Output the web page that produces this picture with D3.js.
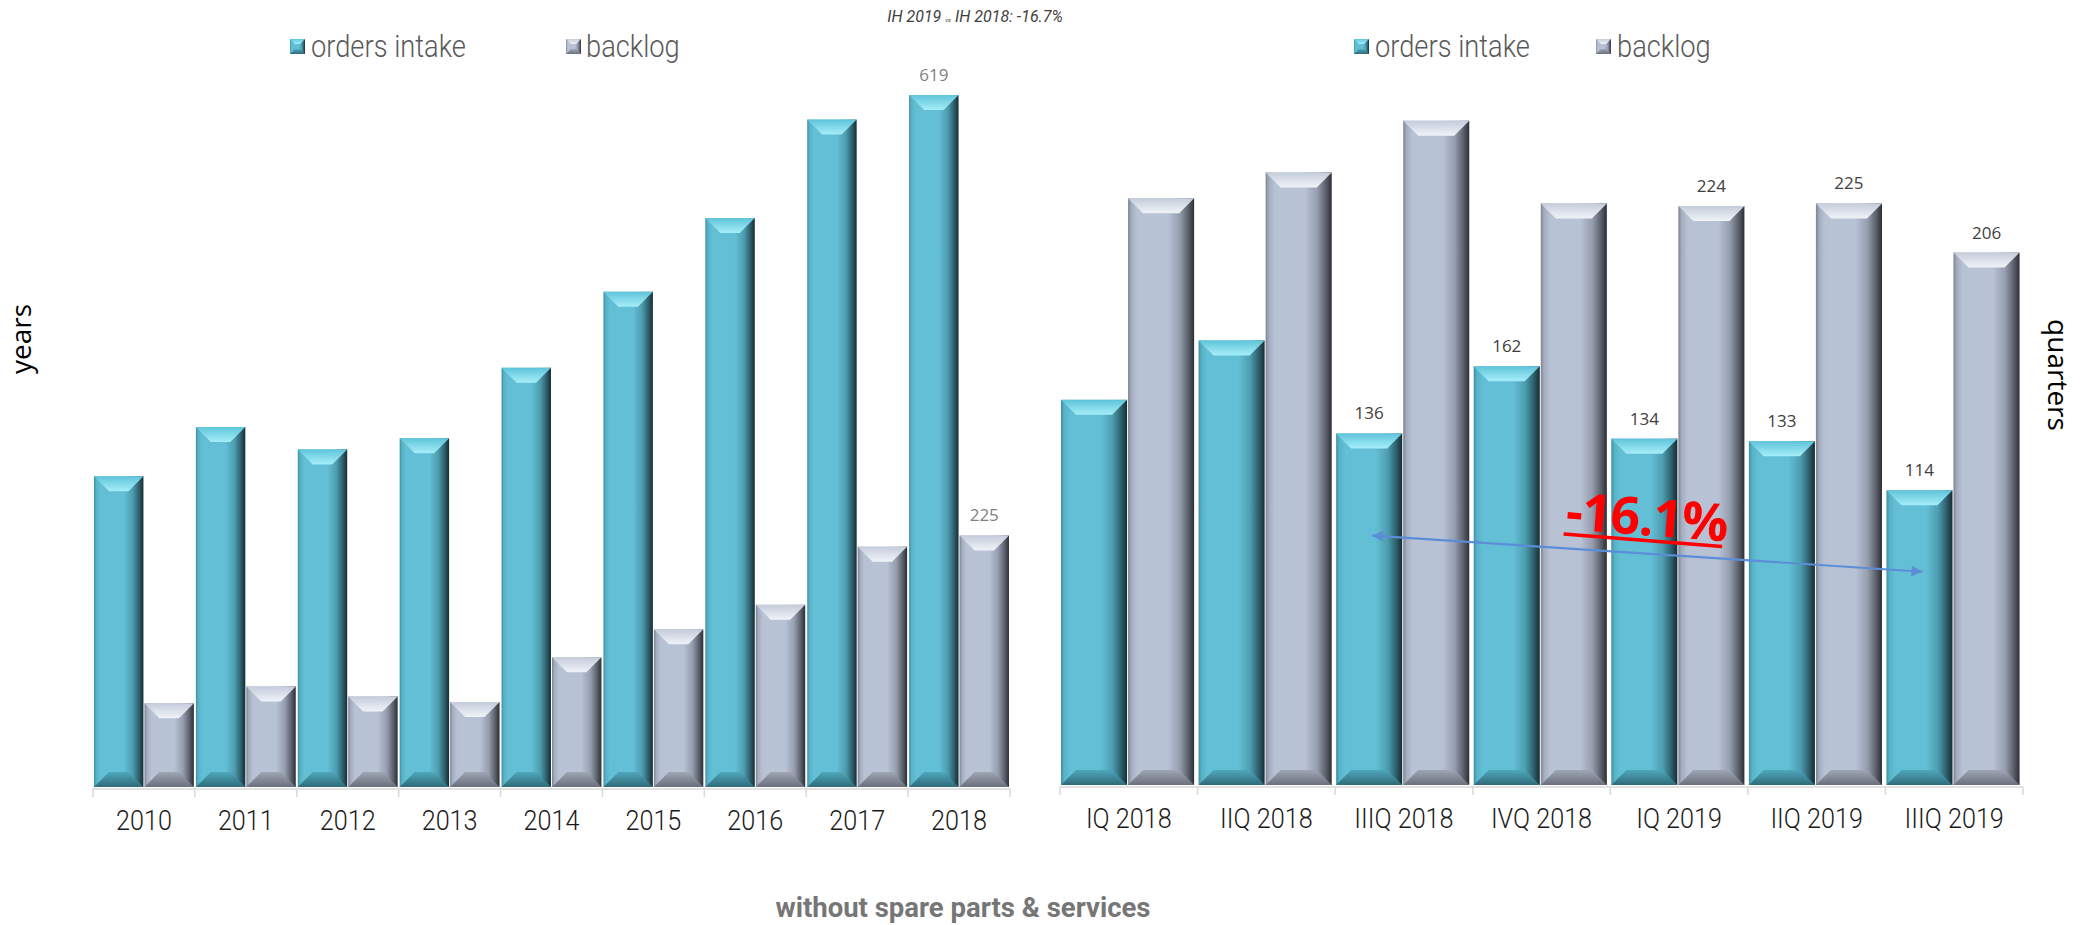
<!DOCTYPE html>
<html><head><meta charset="utf-8">
<script src="https://cdn.jsdelivr.net/npm/d3@7"></script>
<style>body{margin:0;background:#fff;} svg{display:block;}</style>
</head><body>
<svg id="c" width="2087" height="925"></svg>
<script>
// ---------- DATA ----------
const years = ["2010","2011","2012","2013","2014","2015","2016","2017","2018"];
const yearOrders  = [278, 322, 302, 312, 375, 443, 509, 597, 619];
const yearBacklog = [75, 90, 81, 76, 116, 141, 163, 215, 225];
const yearOrderLabels   = [false,false,false,false,false,false,false,false,true];
const yearBacklogLabels = [false,false,false,false,false,false,false,false,true];

const quarters = ["IQ 2018","IIQ 2018","IIIQ 2018","IVQ 2018","IQ 2019","IIQ 2019","IIIQ 2019"];
const qOrders  = [149, 172, 136, 162, 134, 133, 114];
const qBacklog = [227, 237, 257, 225, 224, 225, 206];
const qOrderLabels   = [false,false,true,true,true,true,true];
const qBacklogLabels = [false,false,false,false,true,true,true];

const seriesNames = ["orders intake","backlog"];
const seriesKeys = ["orders","backlog"];
const titleParts = ["IH 2019 ", "vs", " IH 2018: -16.7%"];
const footnote = "without spare parts & services";
const changeLabel = "-16.1%";
const arrowFrom = {cat:"IIIQ 2018", value:96.5};
const arrowTo   = {cat:"IIIQ 2019", value:82.5};

// ---------- SETUP ----------
const svg = d3.select("#c");
const defs = svg.append("defs");
function grad(id, stops, vertical){
  const g = defs.append("linearGradient").attr("id", id)
    .attr("x1",0).attr("y1",0).attr("x2", vertical?0:1).attr("y2", vertical?1:0);
  stops.forEach(([o,c]) => g.append("stop").attr("offset", o).attr("stop-color", c));
}
grad("side-orders", [[0,"#3f8fa2"],[0.05,"#58b3c8"],[0.14,"#63bfd6"],[0.6,"#63bfd6"],[0.78,"#4d9db0"],[0.91,"#2d5f6c"],[1,"#162c33"]]);
grad("top-orders", [[0,"#5fc4da"],[1,"#a6eef9"]], true);
grad("bot-orders", [[0,"#4ea7bb"],[1,"#2f6b7a"]], true);
grad("side-backlog", [[0,"#7b8392"],[0.05,"#a4adbf"],[0.14,"#b8c2d5"],[0.6,"#b8c2d5"],[0.78,"#959dae"],[0.91,"#5b606b"],[1,"#2c2f35"]]);
grad("top-backlog", [[0,"#c4ccdb"],[1,"#f0f3f8"]], true);
grad("bot-backlog", [[0,"#9ea5b4"],[1,"#6b707b"]], true);

function drawBar(g, x, y, w, h, kind, b){
  g.append("rect").attr("x",x).attr("y",y).attr("width",w).attr("height",h)
    .attr("fill",`url(#side-${kind})`);
  const bb = Math.min(b, h/2, w/2);
  g.append("polygon").attr("points",[[x,y],[x+w,y],[x+w-bb,y+bb],[x+bb,y+bb]].map(p=>p.join(",")).join(" "))
    .attr("fill",`url(#top-${kind})`);
  g.append("polygon").attr("points",[[x,y+h],[x+w,y+h],[x+w-bb,y+h-bb],[x+bb,y+h-bb]].map(p=>p.join(",")).join(" "))
    .attr("fill",`url(#bot-${kind})`);
}

function condensedText(g, x, y, txt, size, color, weight, sx, anchor){
  const t = g.append("g").attr("transform",`translate(${x},${y}) scale(${sx},1)`)
    .append("text").attr("x",0).attr("y",0)
    .attr("font-family","Roboto, sans-serif").attr("font-weight",weight)
    .attr("font-size",size).attr("fill",color).attr("text-anchor",anchor||"start").text(txt);
  return t;
}

function chart(opts){
  const {cats, orders, backlog, oLab, bLab, x0, x1, base, vmax, ytop, sub0, sub1, subPad, labelColor, axisY} = opts;
  const x = d3.scaleBand().domain(cats).range([x0,x1]).paddingInner(0).paddingOuter(0);
  const xs = d3.scaleBand().domain(seriesKeys).range([sub0, x.bandwidth()*sub1]).paddingInner(subPad);
  const y = d3.scaleLinear().domain([0,vmax]).range([base,ytop]);
  const g = svg.append("g");
  // axis
  const ax = g.append("g").attr("transform",`translate(0,${axisY})`);
  ax.append("line").attr("x1",x0).attr("x2",x1).attr("y1",0).attr("y2",0).attr("stroke","#d9d9d9").attr("stroke-width",1.5);
  const bounds = cats.map(c=>x(c)).concat([x(cats[cats.length-1])+x.bandwidth()]);
  ax.selectAll("line.tk").data(bounds).join("line").attr("class","tk")
    .attr("x1",d=>d).attr("x2",d=>d).attr("y1",0).attr("y2",8).attr("stroke","#d9d9d9").attr("stroke-width",1.5);
  cats.forEach(c=>{
    condensedText(g, x(c)+x.bandwidth()/2, axisY+41, c, 28, "#1a1a1a", 300, 0.9, "middle");
  });
  // bars
  const data = [];
  cats.forEach((c,i)=>{
    data.push({cat:c, key:"orders", v:orders[i], lab:oLab[i]});
    data.push({cat:c, key:"backlog", v:backlog[i], lab:bLab[i]});
  });
  g.selectAll("g.bar").data(data).join("g").attr("class","bar").each(function(d){
    const bx = x(d.cat)+xs(d.key), bw = xs.bandwidth();
    drawBar(d3.select(this), bx, y(d.v), bw, base-y(d.v), d.key, 15);
    if(d.lab){
      d3.select(this).append("text").attr("x",bx+bw/2).attr("y",y(d.v)-14)
        .attr("text-anchor","middle").attr("font-family","'Open Sans', sans-serif").attr("font-weight",400)
        .attr("font-size",17).attr("fill",labelColor).text(d.v);
    }
  });
  return {x, xs, y};
}

const L = chart({cats:years, orders:yearOrders, backlog:yearBacklog, oLab:yearOrderLabels, bLab:yearBacklogLabels,
  x0:93, x1:1010, base:787, vmax:619, ytop:95, sub0:1, sub1:0.99, subPad:0.02, labelColor:"#7f7f7f", axisY:789});
const R = chart({cats:quarters, orders:qOrders, backlog:qBacklog, oLab:qOrderLabels, bLab:qBacklogLabels,
  x0:1060, x1:2023, base:785, vmax:224, ytop:206, sub0:1, sub1:0.975, subPad:0.015, labelColor:"#404040", axisY:787});

// ---------- LEGENDS ----------
function legendMarker(x, y, kind){
  const g = svg.append("g");
  drawBar(g, x, y, 15, 15, kind, 5);
}
function legend(items){
  items.forEach(it=>{
    legendMarker(it.mx, 39, it.kind);
    condensedText(svg, it.tx, 57, it.name, 31, "#595959", 300, 0.88, "start");
  });
}
legend([{mx:290, tx:311, kind:"orders", name:seriesNames[0]},{mx:566, tx:586, kind:"backlog", name:seriesNames[1]}]);
legend([{mx:1354, tx:1375, kind:"orders", name:seriesNames[0]},{mx:1596, tx:1617, kind:"backlog", name:seriesNames[1]}]);

// ---------- TITLE ----------
const tt = svg.append("text").attr("x",975).attr("y",22).attr("text-anchor","middle")
  .attr("font-family","Roboto, sans-serif").attr("font-style","italic").attr("font-size",16).attr("fill","#3f3f3f");
tt.append("tspan").text(titleParts[0]);
tt.append("tspan").attr("font-size",6).text(titleParts[1]);
tt.append("tspan").text(titleParts[2]);

// ---------- SIDE LABELS ----------
svg.append("text").attr("transform","translate(31,339) rotate(-90)").attr("text-anchor","middle")
  .attr("font-family","'Open Sans', sans-serif").attr("font-size",28).attr("fill","#000").text("years");
svg.append("text").attr("transform","translate(2048,375) rotate(90)").attr("text-anchor","middle")
  .attr("font-family","'Open Sans', sans-serif").attr("font-size",28).attr("fill","#000").text("quarters");

// ---------- FOOTNOTE ----------
svg.append("text").attr("x",963).attr("y",917).attr("text-anchor","middle")
  .attr("font-family","Roboto, sans-serif").attr("font-weight",700).attr("font-size",27.5).attr("fill","#767676").text(footnote);

// ---------- ARROW + CHANGE ----------
defs.append("marker").attr("id","ah").attr("viewBox","0 0 10 10").attr("refX",10).attr("refY",5)
  .attr("markerWidth",14).attr("markerHeight",11).attr("markerUnits","userSpaceOnUse").attr("orient","auto-start-reverse")
  .append("path").attr("d","M0,0L10,5L0,10z").attr("fill","#5b8ed6");
const ax1 = R.x(arrowFrom.cat)+R.xs("orders")+R.xs.bandwidth()/2+3;
const ax2 = R.x(arrowTo.cat)+R.xs("orders")+R.xs.bandwidth()/2+3;
svg.append("line").attr("x1",ax1).attr("y1",R.y(arrowFrom.value)).attr("x2",ax2).attr("y2",R.y(arrowTo.value))
  .attr("stroke","#5b8ed6").attr("stroke-width",2.2).attr("marker-start","url(#ah)").attr("marker-end","url(#ah)");

const cg = svg.append("g").attr("transform","translate(1565,529) rotate(4.5)");
cg.append("text").attr("x",0).attr("y",0).attr("font-family","'Open Sans', sans-serif").attr("font-weight",700)
  .attr("font-size",52).attr("letter-spacing",-1).attr("fill","#ff0000").text(changeLabel);
cg.append("line").attr("x1",-1).attr("x2",158).attr("y1",5).attr("y2",5).attr("stroke","#ff0000").attr("stroke-width",3.5);
</script>
</body></html>
